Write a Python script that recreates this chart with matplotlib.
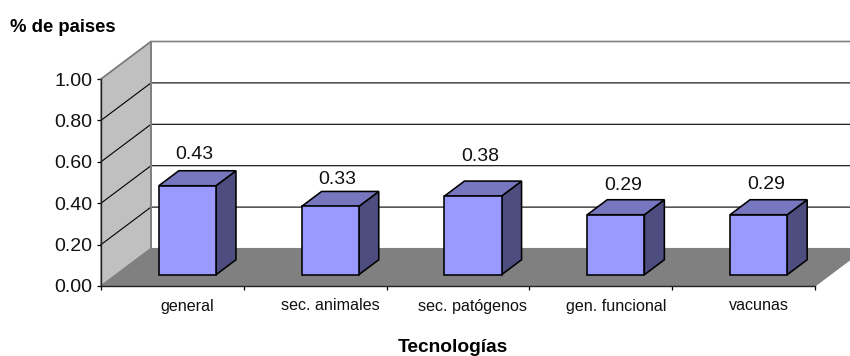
import matplotlib
matplotlib.use("Agg")
import matplotlib.pyplot as plt
from matplotlib.patches import Polygon

plt.rcParams['font.family'] = ['Liberation Sans', 'DejaVu Sans']

categories = ["general", "sec. animales", "sec. patógenos", "gen. funcional", "vacunas"]
values = [0.43, 0.33, 0.38, 0.29, 0.29]
y_ticks = [0.0, 0.2, 0.4, 0.6, 0.8, 1.0]

W, H = 850, 356
# fake 3d: how far the back wall sits from the front, in axis units
DEPTH_X = 50 / 142.8
DEPTH_Y = 37.5 / 207
BAR_WIDTH = 0.40
BAR_FRONT = 0.30
BAR_BACK = 0.70
# extra lift of each value label above its bar
LABEL_LIFT = [0.078, 0.056, 0.121, 0.068, 0.075]


def shift(x, y, d):
    return x + d * DEPTH_X, y + d * DEPTH_Y


def face(ax, pts, color, edge="black", lw=1.15, z=3):
    ax.add_patch(Polygon(pts, closed=True, facecolor=color, edgecolor=edge, linewidth=lw,
                         joinstyle="miter", clip_on=False, zorder=z))


fig = plt.figure(figsize=(W / 100, H / 100), dpi=100, facecolor="white")
ax = fig.add_axes([101 / W, 1 - 286 / H, 714 / W, 207 / H])
ax.set_xlim(0, 5)
ax.set_ylim(0, 1)
ax.patch.set_visible(False)

# side wall and floor
face(ax, [shift(0, 0, 0), shift(0, 0, 1), shift(0, 1, 1), shift(0, 1, 0)], "#c0c0c0", "#808080", 1.0, 1)
face(ax, [shift(0, 0, 0), shift(5, 0, 0), shift(5, 0, 1), shift(0, 0, 1)], "#808080", "#808080", 0.8, 1)

# gridlines run along the side wall and then across the back wall
for t in y_ticks[1:]:
    col = "#808080" if t == 1.0 else "black"
    lw = 1.2 if t == 1.0 else 0.8
    p0 = shift(0, t, 0)
    p1 = shift(0, t, 1)
    p2 = shift(5, t, 1)
    ax.plot([p0[0], p1[0], p2[0]], [p0[1], p1[1], p2[1]], color=col, lw=lw, clip_on=False,
            zorder=2, solid_joinstyle="miter")
ax.plot(*zip(shift(0, 0, 1), shift(0, 1, 1)), color="#808080", lw=1.4, clip_on=False, zorder=2)

for i, v in enumerate(values):
    x0 = i + 0.5 - BAR_WIDTH / 2
    x1 = i + 0.5 + BAR_WIDTH / 2
    fb = shift(x0, 0, BAR_FRONT)
    fr = shift(x1, 0, BAR_FRONT)
    ft = shift(x0, v, BAR_FRONT)
    frt = shift(x1, v, BAR_FRONT)
    bt = shift(x0, v, BAR_BACK)
    brt = shift(x1, v, BAR_BACK)
    br = shift(x1, 0, BAR_BACK)
    face(ax, [fr, br, brt, frt], "#4d4d80")
    face(ax, [ft, frt, brt, bt], "#7777bf")
    face(ax, [fb, fr, frt, ft], "#9999ff")
    lx, ly = shift(i + 0.5, v, BAR_BACK)
    ax.text(lx - 0.09, ly + LABEL_LIFT[i], f"{v:.2f}", ha="center", va="center", fontsize=14,
            color="#111111", zorder=5)

for side in ["top", "right"]:
    ax.spines[side].set_visible(False)
for side in ["left", "bottom"]:
    ax.spines[side].set_linewidth(1.0)
    ax.spines[side].set_color("#222222")
    ax.spines[side].set_zorder(4)

ax.set_yticks(y_ticks)
ax.set_yticklabels([f"{t:.2f}" for t in y_ticks], fontsize=14, color="#111111")
ax.tick_params(axis="y", length=3.2, width=0.9, pad=3)
ax.set_xticks(range(6))
ax.set_xticklabels([])
ax.tick_params(axis="x", which="major", length=3.2, width=0.9)
ax.set_xticks([i + 0.5 + BAR_FRONT * DEPTH_X for i in range(5)], minor=True)
ax.set_xticklabels(categories, minor=True, fontsize=11.6, color="#111111")
ax.tick_params(axis="x", which="minor", length=0, pad=9)

fig.text(10 / W, 1 - 27 / H, "% de paises", fontsize=13.3, fontweight="bold", ha="left", va="center")
fig.text(453 / W, 1 - 347 / H, "Tecnologías", fontsize=13.8, fontweight="bold", ha="center", va="center")

fig.savefig("out.png", dpi=100)
